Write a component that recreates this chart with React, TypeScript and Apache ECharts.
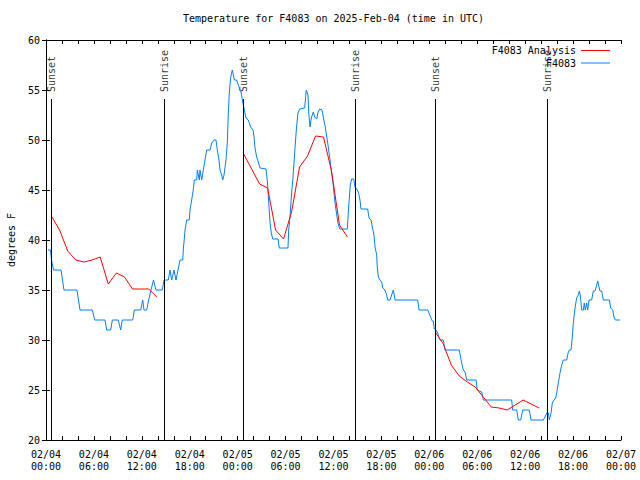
import React, { useEffect, useRef } from "react";
import * as echarts from "echarts";

const FONT = "DejaVu Sans Mono";

// x values are hours since 2025-02-04 00:00 UTC
const xTickLabels = [
  "02/04\n00:00", "02/04\n06:00", "02/04\n12:00", "02/04\n18:00",
  "02/05\n00:00", "02/05\n06:00", "02/05\n12:00", "02/05\n18:00",
  "02/06\n00:00", "02/06\n06:00", "02/06\n12:00", "02/06\n18:00",
  "02/07\n00:00",
];

const obsHours = [
  0.25, 0.56, 0.69, 0.94, 1.88, 2.25, 3.88, 4.26, 5.8, 6.1, 7.39, 7.6, 8.1, 8.3, 9.05, 9.35, 9.55,
  10.86, 11.06, 11.86, 12.11, 12.27, 12.61, 12.86, 13.15, 13.46, 13.77, 14.56, 14.78, 15.31, 15.53,
  15.74, 16.03, 16.28, 16.53, 16.78, 17.12, 17.19, 17.41, 17.62, 17.94, 18.03, 18.24, 18.44, 18.57,
  18.87, 18.95, 19.2, 19.28, 19.5, 19.7, 19.91, 20.12, 20.54, 20.75, 21.04, 21.29, 21.45, 21.66,
  21.79, 22.0, 22.13, 22.29, 22.54, 22.7, 22.83, 22.95, 23.13, 23.33, 23.58, 23.88, 24.17, 24.42,
  24.63, 24.79, 25.04, 25.33, 25.63, 25.92, 26.05, 26.17, 26.38, 26.58, 26.8, 27.55, 27.71, 27.89,
  28.05, 28.21, 28.39, 29.05, 29.21, 30.3, 30.39, 30.55, 30.72, 30.93, 31.14, 31.34, 31.55, 31.77,
  32.39, 32.59, 32.81, 32.9, 33.06, 33.22, 33.47, 33.65, 33.9, 34.06, 34.27, 34.56, 34.72, 34.97,
  35.22, 35.52, 35.72, 35.94, 36.15, 36.35, 36.56, 36.78, 37.73, 37.9, 38.1, 38.28, 38.53, 38.69,
  38.9, 39.11, 39.32, 39.44, 40.28, 40.45, 40.7, 40.86, 41.07, 41.2, 41.41, 41.48, 41.61, 41.82,
  42.04, 42.16, 42.45, 42.66, 42.79, 43.08, 43.36, 43.49, 43.61, 43.7, 46.54, 46.71, 47.8, 47.96,
  48.21, 48.37, 48.5, 48.62, 48.84, 49.05, 49.21, 49.34, 49.75, 49.96, 51.75, 52.05, 52.25, 52.47,
  52.68, 53.85, 54.01, 54.56, 54.76, 58.31, 58.44, 58.94, 59.14, 59.44, 59.69, 60.52, 60.73, 62.27,
  62.48, 62.7, 62.9, 63.02, 63.24, 63.4, 63.61, 63.82, 63.95, 64.15, 64.36, 64.58, 64.78, 65.2,
  65.37, 65.53, 65.74, 65.9, 66.03, 66.24, 66.45, 66.65, 66.78, 66.9, 67.08, 67.28, 67.4, 67.53,
  67.7, 67.83, 68.0, 68.33, 68.53, 68.75, 68.96, 69.08, 69.25, 69.37, 69.58, 69.79, 70.54, 70.71,
  70.96, 71.12, 71.29, 71.88,
];
const obsTemps = [
  39, 39, 38, 37, 37, 35, 35, 33, 33, 32, 32, 31, 31, 32, 32, 31, 32,
  32, 33, 33, 34, 33, 33, 34, 35, 36, 35, 35, 36, 36, 37,
  36, 37, 36, 37, 38, 38, 39, 41, 42, 42, 43, 44, 45, 46,
  46, 47, 46, 47, 46, 47, 48, 49, 49, 49.7, 50, 50, 49, 48,
  47, 46.5, 46, 46.5, 48, 49.7, 52.7, 54.7, 56.3, 57, 56, 56, 55.3, 54.8,
  53.8, 53.2, 52.2, 52, 51.3, 51, 50.3, 49.2, 48.3, 47.8, 47.2, 47.1, 46, 43.7,
  41.8, 40.7, 40.1, 40.1, 39.2, 39.2, 41, 42.3, 44.3, 46.3, 48.7, 51, 52.7, 53.1,
  53.2, 55, 54.5, 52.7, 51.3, 52.2, 52.8, 52.3, 52.1, 52.8, 53.1, 53, 52.3, 51.3,
  50, 48.3, 47, 45.7, 44, 42.8, 41.7, 41.1, 41.1, 43.3, 45.5, 46.1, 46.1, 45.3,
  45.1, 44.8, 44, 43.1, 43.1, 42.2, 42, 41.3, 40.5, 39.3, 38.5, 37.3, 36.3, 36,
  35.8, 35.2, 35, 34.5, 34, 34, 34.7, 35, 34.5, 34, 34, 33, 33, 32.7,
  32.2, 31.9, 31.9, 31.1, 31, 30.7, 30.2, 30, 30, 29, 29, 27.7, 27, 26.8,
  26, 26, 25, 24.8, 24, 24, 23, 23, 22, 22, 23, 23, 22, 22,
  22.3, 22.7, 22.7, 22, 22.7, 23.7, 24, 24.2, 24.7, 25.7, 26.7, 27.5, 28, 28,
  28.7, 29, 29, 30.3, 31.7, 33.2, 34.2, 34.5, 34.9, 34.5, 33, 33, 33.7, 33,
  33.7, 33, 34, 34, 34.9, 34.9, 35.5, 35.9, 35.3, 34.9, 34.9, 34, 34, 33.2,
  33, 32.3, 32, 32,
];

const analysisHours1 = [0.67, 1.7, 2.72, 3.73, 4.75, 5.77, 6.78, 7.8, 8.81, 9.83, 10.84, 11.86, 12.87, 13.87];
const analysisTemps1 = [42.4, 41.0, 38.9, 38.0, 37.8, 38.0, 38.3, 35.6, 36.7, 36.3, 35.1, 35.1, 35.1, 34.3];
const analysisHours2 = [24.75, 25.75, 26.75, 27.75, 28.75, 29.75, 30.75, 31.75, 32.75, 33.75, 34.75, 35.75, 36.75, 37.75];
const analysisTemps2 = [48.6, 47.1, 45.6, 45.2, 41.0, 40.1, 42.8, 47.3, 48.4, 50.4, 50.3, 46.9, 41.5, 40.3];
const analysisHours3 = [48.75, 49.75, 50.75, 51.75, 52.75, 53.75, 54.75, 55.75, 56.75, 57.75, 58.75, 59.75, 60.75, 61.75];
const analysisTemps3 = [30.8, 29.6, 27.5, 26.4, 25.8, 25.3, 24.3, 23.3, 23.2, 23.0, 23.5, 24.0, 23.6, 23.2];

const sunHours = [0.66, 14.81, 24.71, 38.73, 48.75, 62.77];
const sunNames = ["Sunset", "Sunrise", "Sunset", "Sunrise", "Sunset", "Sunrise"];

const SUN_LINE_TOP = 54.1;
const SUN_LABEL_Y = 54.8;

export default function App() {
  const ref = useRef<HTMLDivElement>(null);

  useEffect(() => {
    const chart = echarts.init(ref.current as HTMLDivElement, null, { renderer: "svg" });

    const obsData = obsHours.map((h, i) => [h, obsTemps[i]]);
    const anaData: any[] = [];
    [
      [analysisHours1, analysisTemps1],
      [analysisHours2, analysisTemps2],
      [analysisHours3, analysisTemps3],
    ].forEach(([hs, ts], k) => {
      if (k > 0) anaData.push([hs[0] - 0.5, null]);
      hs.forEach((h, i) => anaData.push([h, ts[i]]));
    });

    const txt = { fontFamily: FONT, fontSize: 10, color: "#000" };
    const axisLine = { show: true, lineStyle: { color: "#000", width: 1 } };
    const tick = { show: true, inside: true, length: 4, lineStyle: { color: "#000", width: 1 } };
    const legendCommon = {
      right: 30,
      orient: "vertical",
      align: "right",
      icon: "rect",
      itemWidth: 29,
      itemHeight: 1,
      padding: 0,
      textStyle: { ...txt },
      selectedMode: false,
    };

    chart.setOption({
      animation: false,
      backgroundColor: "#fff",
      title: {
        text: "Temperature for F4083 on 2025-Feb-04 (time in UTC)",
        left: 183,
        top: 13,
        padding: 0,
        textStyle: { ...txt, fontWeight: "normal" },
      },
      legend: [
        { ...legendCommon, data: ["F4083 Analysis"], top: 45.5 },
        { ...legendCommon, data: ["F4083"], top: 58 },
      ],
      grid: {
        left: 46,
        right: 19,
        top: 40,
        bottom: 40,
        containLabel: false,
        outerBoundsMode: "none",
      },
      xAxis: [
        {
          type: "value",
          min: 0,
          max: 72,
          interval: 2,
          axisLine,
          axisTick: tick,
          splitLine: { show: false },
          axisLabel: {
            ...txt,
            margin: 8,
            lineHeight: 12.5,
            showMinLabel: true,
            showMaxLabel: true,
            hideOverlap: false,
            formatter: (v: number) => (v % 6 === 0 ? xTickLabels[v / 6] : ""),
          },
        },
        {
          type: "value",
          position: "top",
          min: 0,
          max: 72,
          interval: 2,
          axisLine,
          axisTick: tick,
          splitLine: { show: false },
          axisLabel: { show: false },
        },
      ],
      yAxis: [
        {
          type: "value",
          min: 20,
          max: 60,
          interval: 5,
          axisLine,
          axisTick: tick,
          splitLine: { show: false },
          axisLabel: { ...txt, margin: 6 },
          name: "degrees F",
          nameLocation: "middle",
          nameGap: 30,
          nameTextStyle: { ...txt },
        },
        {
          type: "value",
          position: "right",
          min: 20,
          max: 60,
          interval: 5,
          axisLine,
          axisTick: tick,
          splitLine: { show: false },
          axisLabel: { show: false },
        },
      ],
      series: [
        {
          name: "sun",
          type: "scatter",
          symbolSize: 0,
          silent: true,
          itemStyle: { color: "rgba(0,0,0,0)" },
          data: sunHours.map((h, i) => [h, SUN_LABEL_Y, sunNames[i]]),
          label: {
            show: true,
            position: "inside",
            rotate: 90,
            align: "left",
            verticalAlign: "middle",
            ...txt,
            formatter: (p: any) => p.data[2],
          },
          markLine: {
            silent: true,
            symbol: ["none", "none"],
            label: { show: false },
            lineStyle: { color: "#000", width: 1, type: "solid" },
            data: sunHours.map((h) => [{ coord: [h, 20] }, { coord: [h, SUN_LINE_TOP] }]),
          },
          z: 1,
        },
        {
          name: "F4083 Analysis",
          type: "line",
          data: anaData,
          symbol: "none",
          connectNulls: false,
          lineStyle: { color: "#ff0000", width: 1 },
          itemStyle: { color: "#ff0000" },
          z: 3,
        },
        {
          name: "F4083",
          type: "line",
          data: obsData,
          symbol: "none",
          lineStyle: { color: "#0080ff", width: 1 },
          itemStyle: { color: "#0080ff" },
          z: 2,
        },
      ],
    });

    return () => chart.dispose();
  }, []);

  return (
    <div
      ref={ref}
      style={{ position: "fixed", left: 0, top: 0, width: 640, height: 480 }}
    />
  );
}
